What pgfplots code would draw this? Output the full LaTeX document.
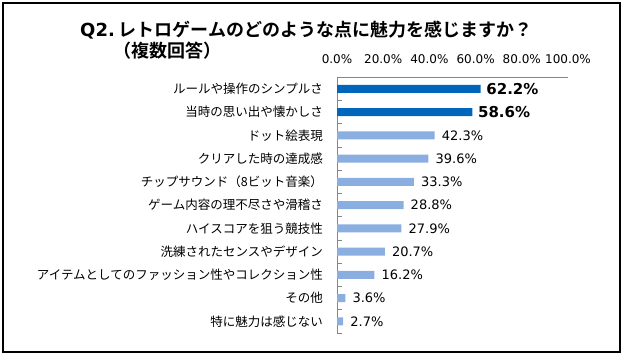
\documentclass[border=0pt]{standalone}
\usepackage{pgfplots}
\pgfplotsset{compat=1.18}
\usepackage{fontspec}
\setmainfont{DejaVu Sans}
\newfontfamily\jp[BoldFont={Noto Sans CJK JP Bold}]{Noto Sans CJK JP}
\definecolor{darkbar}{RGB}{0,102,187}
\definecolor{lightbar}{RGB}{138,174,224}
\definecolor{axgray}{RGB}{134,134,134}
\begin{document}
\begin{tikzpicture}[x=1bp,y=1bp]
\path[use as bounding box] (0,0) rectangle (624,-358);
\draw[line width=1.2bp] (3,-3) rectangle (620,-352);
\node[anchor=west, inner sep=0pt] at (80,-30) {\fontsize{18bp}{20bp}\selectfont\bfseries Q2.\hspace{4bp}{\jp\bfseries レトロゲームのどのような点に魅力を感じますか？}};
\node[anchor=west, inner sep=0pt] at (113,-50.5) {\fontsize{18bp}{20bp}\selectfont\jp\bfseries （複数回答）};
\begin{axis}[
 at={(337bp,-77.3bp)}, anchor=north west,
 scale only axis, width=231bp, height=255.7bp,
 xbar, bar width=8bp, bar shift=0pt,
 xmin=0, xmax=100, ymin=-0.5, ymax=10.5,
 clip=false,
 axis x line=top, axis y line=left,
 axis line style={axgray, line width=0.75bp, -},
 /pgf/number format/assume math mode=true,
 xtick={0,20,40,60,80,100},
 xticklabel={\pgfmathprintnumber[fixed,fixed zerofill,precision=1]{\tick}\%},
 major x tick style={draw=none},
 xticklabel style={font=\fontsize{12bp}{14bp}\selectfont, anchor=base, yshift=14bp},
 ytick={0,1,2,3,4,5,6,7,8,9,10},
 yticklabels={特に魅力は感じない, その他, アイテムとしてのファッション性やコレクション性, 洗練されたセンスやデザイン, ハイスコアを狙う競技性, ゲーム内容の理不尽さや滑稽さ, チップサウンド（8ビット音楽）, クリアした時の達成感, ドット絵表現, 当時の思い出や懐かしさ, ルールや操作のシンプルさ},
 yticklabel style={font=\jp\fontsize{12.5bp}{14bp}\selectfont, anchor=east, inner sep=0pt, xshift=-14bp},
 major y tick style={draw=none},
 minor ytick={-0.5,0.5,1.5,2.5,3.5,4.5,5.5,6.5,7.5,8.5,9.5,10.5},
 minor y tick style={axgray, line width=0.75bp},
 minor tick length=5bp,
 tick align=inside,
 point meta=x,
]
\addplot[fill=darkbar, draw=none,
  nodes near coords={\pgfmathprintnumber[fixed,fixed zerofill,precision=1]{\pgfplotspointmeta}\%},
  nodes near coords style={font=\bfseries\fontsize{15bp}{17bp}\selectfont, anchor=west, inner sep=0pt, xshift=5.5bp}]
  coordinates {(62.2,10) (58.6,9)};
\addplot[fill=lightbar, draw=none,
  nodes near coords={\pgfmathprintnumber[fixed,fixed zerofill,precision=1]{\pgfplotspointmeta}\%},
  nodes near coords style={font=\fontsize{13bp}{15bp}\selectfont, anchor=west, inner sep=0pt, xshift=7bp}]
  coordinates {(42.3,8) (39.6,7) (33.3,6) (28.8,5) (27.9,4) (20.7,3) (16.2,2) (3.6,1) (2.7,0)};
\end{axis}
\end{tikzpicture}
\end{document}
